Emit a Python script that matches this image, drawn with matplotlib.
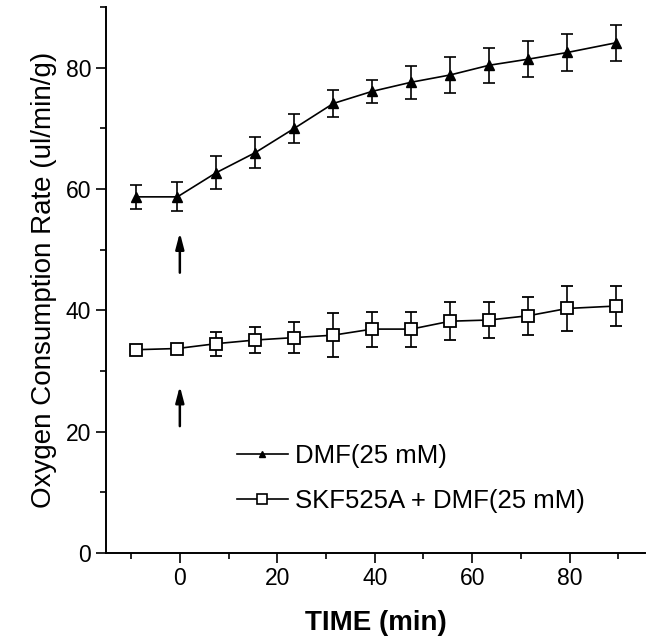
import matplotlib
matplotlib.use("Agg")
import matplotlib.pyplot as plt
from matplotlib.lines import Line2D
from matplotlib.ticker import MultipleLocator

plt.rcParams["font.family"] = ["Liberation Sans", "DejaVu Sans"]

# time points (min), relative to DMF addition at t=0
time_min = [-9, -0.5, 7.5, 15.5, 23.5, 31.5, 39.5, 47.5, 55.5, 63.5, 71.5, 79.5, 89.5]

dmf_mean = [58.7, 58.7, 62.7, 66.0, 70.0, 74.1, 76.1, 77.6, 78.8, 80.4, 81.4, 82.5, 84.1]
dmf_err = [2.0, 2.4, 2.7, 2.5, 2.4, 2.2, 1.9, 2.7, 3.0, 2.9, 3.0, 3.0, 3.0]

skf_mean = [33.5, 33.7, 34.5, 35.1, 35.5, 35.9, 36.9, 36.9, 38.2, 38.4, 39.1, 40.3, 40.7]
skf_err = [0.8, 0.8, 2.0, 2.2, 2.5, 3.6, 2.9, 2.9, 3.1, 2.9, 3.1, 3.7, 3.3]

labels = ["DMF(25 mM)", "SKF525A + DMF(25 mM)"]

# DMF added at t=0: arrow (start, end) on the y axis for each curve
arrow_spans = [(46.2, 52.8), (20.9, 27.5)]

fig = plt.figure(figsize=(6.57, 6.37), dpi=100)
ax = fig.add_axes([0.161, 0.132, 0.821, 0.857])

ax.errorbar(time_min, dmf_mean, yerr=dmf_err, color="black", lw=1.2,
            marker="^", ms=6.5, mfc="black", capsize=4.5, elinewidth=1.2,
            capthick=1.2)
ax.errorbar(time_min, skf_mean, yerr=skf_err, color="black", lw=1.2,
            marker="s", ms=9, mfc="white", mew=1.3, capsize=4.5, elinewidth=1.2,
            capthick=1.2)

for y0, y1 in arrow_spans:
    ax.annotate("", xy=(0, y1), xytext=(0, y0),
                arrowprops=dict(arrowstyle="-|>,head_length=0.95,head_width=0.25",
                                color="black", lw=1.8, shrinkA=0, shrinkB=0))

ax.set_xlim(-15.2, 95.5)
ax.set_ylim(0, 90)
ax.xaxis.set_major_locator(MultipleLocator(20))
ax.xaxis.set_minor_locator(MultipleLocator(10))
ax.yaxis.set_major_locator(MultipleLocator(20))
ax.yaxis.set_minor_locator(MultipleLocator(10))
ax.set_xticks([0, 20, 40, 60, 80])
ax.tick_params(which="major", direction="out", length=7, width=1.2, labelsize=16.5)
ax.tick_params(which="minor", direction="out", length=4, width=1.2)
for side in ["top", "right"]:
    ax.spines[side].set_visible(False)
for side in ["left", "bottom"]:
    ax.spines[side].set_linewidth(1.4)

ax.set_xlabel("TIME (min)", fontsize=20, fontweight="bold", labelpad=14)
ax.set_ylabel("Oxygen Consumption Rate (ul/min/g)", fontsize=20, labelpad=6)

handles = [
    Line2D([], [], color="black", lw=1.2, marker="^", ms=5, mfc="black"),
    Line2D([], [], color="black", lw=1.2, marker="s", ms=7, mfc="white", mew=1.2),
]
ax.legend(handles, labels, loc="lower left", bbox_to_anchor=(0.2, 0.03),
          frameon=False, fontsize=18.5, handlelength=1.98, handletextpad=0.3,
          labelspacing=0.85)

fig.savefig("out.png", dpi=100)
